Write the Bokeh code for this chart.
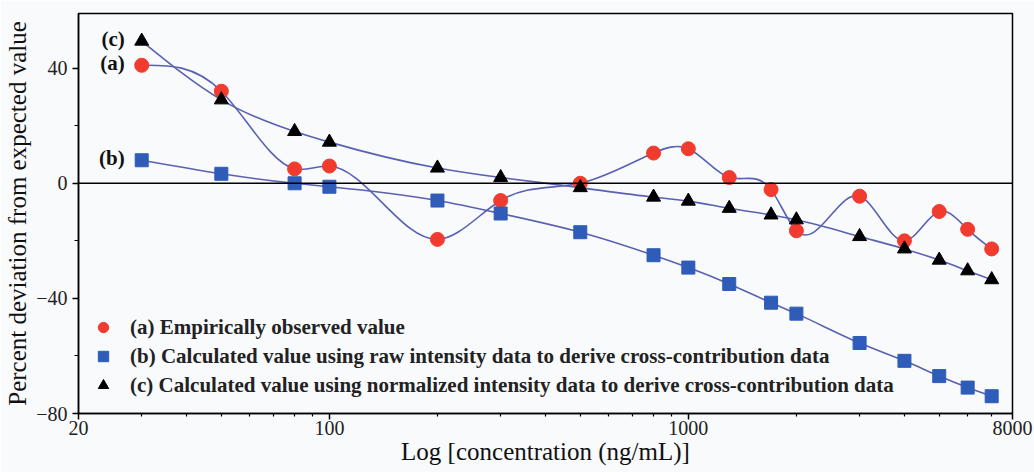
import numpy as np
from bokeh.plotting import figure
from bokeh.models import (FixedTicker, PrintfTickFormatter, Span, Legend, LegendItem,
                          ColumnDataSource)
from bokeh.core.properties import value
from bokeh.embed import file_html
from bokeh.resources import INLINE

# ---------------- data ----------------
conc = [30, 50, 80, 100, 200, 300, 500, 800, 1000, 1300, 1700, 2000, 3000, 4000, 5000, 6000, 7000]
obs_a = [41, 32, 5, 6, -19.5, -6, 0, 10.5, 12, 2, -2.2, -16.5, -4.5, -20, -9.8, -16, -22.8]
raw_b = [8, 3.3, 0, -1.2, -6, -10.5, -17, -25, -29.3, -35, -41.5, -45.3, -55.5, -61.7, -67, -71, -74]
norm_c = [49.4, 29, 18, 14.3, 5.3, 2, -1.5, -4.8, -6.2, -8.7, -11, -12.7, -18.5, -22.8, -26.7, -30.4, -33.5]

x_major = [20, 100, 1000, 8000]
x_minor = [30, 40, 50, 60, 70, 80, 90, 200, 300, 400, 500, 600, 700, 800, 900,
           2000, 3000, 4000, 5000, 6000, 7000]
y_major = [-80, -40, 0, 40]
y_minor = [-60, -20, 20]

labels = ["(a) Empirically observed value",
          "(b) Calculated value using raw intensity data to derive cross-contribution data",
          "(c) Calculated value using normalized intensity data to derive cross-contribution data"]
tags = ["(a)", "(b)", "(c)"]

SERIF = value("Liberation Serif")
LINE = "#5a60b2"
BG = "#f8fafc"


def spline_segments(xs, ys):
    """Natural cubic spline in log10(x), expressed as cubic Bezier segments."""
    u = np.log10(np.asarray(xs, float))
    y = np.asarray(ys, float)
    n = len(u)
    h = np.diff(u)
    A = np.zeros((n, n))
    r = np.zeros(n)
    A[0, 0] = A[-1, -1] = 1.0
    for i in range(1, n - 1):
        A[i, i - 1] = h[i - 1]
        A[i, i] = 2 * (h[i - 1] + h[i])
        A[i, i + 1] = h[i]
        r[i] = 6 * ((y[i + 1] - y[i]) / h[i] - (y[i] - y[i - 1]) / h[i - 1])
    M = np.linalg.solve(A, r)
    d = dict(x0=[], y0=[], x1=[], y1=[], cx0=[], cy0=[], cx1=[], cy1=[])
    for i in range(n - 1):
        s = (y[i + 1] - y[i]) / h[i]
        mL = s - h[i] * (2 * M[i] + M[i + 1]) / 6
        mR = s + h[i] * (M[i] + 2 * M[i + 1]) / 6
        d["x0"].append(10 ** u[i]); d["y0"].append(y[i])
        d["x1"].append(10 ** u[i + 1]); d["y1"].append(y[i + 1])
        d["cx0"].append(10 ** (u[i] + h[i] / 3)); d["cy0"].append(y[i] + mL * h[i] / 3)
        d["cx1"].append(10 ** (u[i + 1] - h[i] / 3)); d["cy1"].append(y[i + 1] - mR * h[i] / 3)
    return ColumnDataSource(d)


p = figure(width=1034, height=472, x_axis_type="log",
           x_range=(20, 8000), y_range=(-80, 59),
           output_backend="svg", toolbar_location=None,
           min_border_left=78, min_border_right=22,
           min_border_top=13, min_border_bottom=59,
           background_fill_color=BG, border_fill_color=BG)

p.grid.visible = False
p.outline_line_color = "black"
p.outline_line_width = 1.5

# axes
for ax in (p.xaxis[0], p.yaxis[0]):
    ax.axis_line_color = "black"
    ax.axis_line_width = 1.5
    ax.major_tick_line_color = "black"
    ax.minor_tick_line_color = "black"
    ax.major_tick_line_width = 1.5
    ax.minor_tick_line_width = 1.2
    ax.major_tick_in = 0
    ax.minor_tick_in = 0
    ax.major_label_text_font = "Liberation Serif"
    ax.major_label_text_font_size = "20px"
    ax.major_label_text_color = "#222222"
    ax.axis_label_text_font = "Liberation Serif"
    ax.axis_label_text_font_style = "normal"
    ax.axis_label_text_color = "#111111"
    ax.axis_label_text_font_size = "25px"

p.xaxis.ticker = FixedTicker(ticks=x_major, minor_ticks=x_minor)
p.xaxis.formatter = PrintfTickFormatter(format="%d")
p.xaxis.major_tick_out = 6
p.xaxis.minor_tick_out = 3
p.xaxis.major_label_standoff = 1
p.xaxis.axis_label = "Log [concentration (ng/mL)]"
p.xaxis.axis_label_standoff = 0

p.yaxis.ticker = FixedTicker(ticks=y_major, minor_ticks=y_minor)
p.yaxis.major_tick_out = 6
p.yaxis.minor_tick_out = 4
p.yaxis.major_label_standoff = 5
p.yaxis.axis_label = "Percent deviation from expected value"
p.yaxis.axis_label_standoff = 2

# zero line
p.add_layout(Span(location=0, dimension="width", line_color="black", line_width=1.5))

# smooth connecting curves
for ys in (obs_a, raw_b, norm_c):
    p.bezier(x0="x0", y0="y0", x1="x1", y1="y1", cx0="cx0", cy0="cy0", cx1="cx1", cy1="cy1",
             source=spline_segments(conc, ys), line_color=LINE, line_width=1.6)

ra = p.scatter(conc, obs_a, marker="circle", size=14, fill_color="#f23b2f", line_color="#f23b2f")
rb = p.scatter(conc, raw_b, marker="square", size=13, fill_color="#2e5cb8", line_color="#2e5cb8")
rc = p.scatter(conc, norm_c, marker="triangle", size=14, fill_color="black", line_color="black")

# series tags next to first points
p.text(x=[conc[0]] * 3, y=[obs_a[0], raw_b[0], norm_c[0]], text=tags,
       text_font=SERIF, text_font_style="bold", text_font_size="21px",
       text_align="right", text_baseline="middle", x_offset=-17, y_offset=-2,
       text_color="#111111")

legend = Legend(items=[LegendItem(label=labels[0], renderers=[ra]),
                       LegendItem(label=labels[1], renderers=[rb]),
                       LegendItem(label=labels[2], renderers=[rc])],
                location=(12, 15), orientation="vertical",
                background_fill_alpha=0, border_line_alpha=0,
                padding=0, margin=0, spacing=3,
                glyph_width=26, glyph_height=26, label_height=26,
                label_standoff=14,
                label_text_font="Liberation Serif", label_text_font_size="21px",
                label_text_font_style="bold", label_text_color="#222222")
p.add_layout(legend)

open("out.html", "w").write(file_html(p, INLINE))
